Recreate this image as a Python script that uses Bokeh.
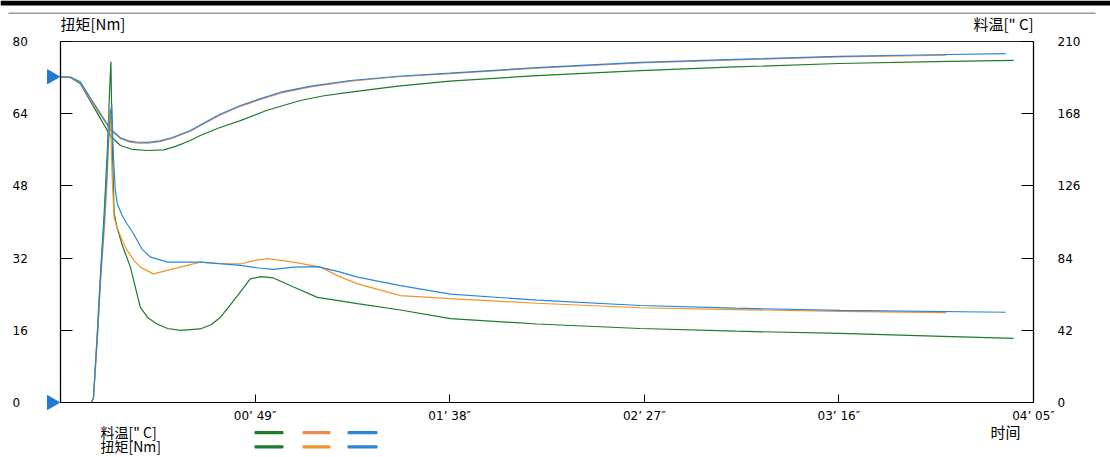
from math import pi
from bokeh.plotting import figure
from bokeh.models import (Range1d, LinearAxis, FixedTicker, Label, LabelSet,
                          ColumnDataSource, BoxAnnotation)
from bokeh.core.properties import value
from bokeh.embed import file_html
from bokeh.resources import INLINE

# ---------------- data ----------------
x_ticks = [49, 98, 147, 196, 245]
x_tick_labels = ["00’ 49″", "01’ 38″", "02’ 27″", "03’ 16″", "04’ 05″"]
left_ticks = [0, 16, 32, 48, 64, 80]
left_tick_labels = ["0", "16", "32", "48", "64", "80"]
right_ticks = [0, 42, 84, 126, 168, 210]

temp_setpoint = 189.5
torque_start = 0

torque_green_t = [0, 7.8, 8.3, 9.3, 10.1, 11.0, 11.8, 12.4, 12.7, 13.0, 13.5, 14.2, 15.5, 17.6,
                  19.0, 20.1, 22.0, 24.3, 27.0, 30.2, 35.2, 38.0, 40.3, 43.6, 47.8, 50.5, 53.6,
                  58.7, 64.7, 74.8, 85.6, 98.2, 120, 146, 170, 196.4, 220, 240]
torque_green_v = [0, 0, 1, 16, 29, 42, 56, 70, 75.5, 58, 42, 38.9, 35, 30,
                  25, 21.1, 18.8, 17.4, 16.4, 16.0, 16.3, 17.3, 18.9, 22.6, 27.4, 27.9, 27.6,
                  25.6, 23.3, 21.9, 20.5, 18.6, 17.4, 16.4, 15.8, 15.3, 14.7, 14.2]

torque_orange_t = [0, 7.8, 8.3, 9.3, 10.1, 11.0, 11.8, 12.3, 12.6, 13.0, 13.5, 14.2, 15.5, 16.8,
                   18.5, 20.1, 23.4, 28.4, 35.2, 40, 45.3, 49, 52.1, 58.7, 65.5, 70, 74.8, 85.6,
                   98.2, 120, 146, 170, 196.4, 223]
torque_orange_v = [0, 0, 1, 14, 27, 38, 50, 65, 63, 50, 41, 38.9, 36, 33.7,
                   31.5, 30, 28.5, 29.6, 31.1, 30.8, 30.7, 31.5, 31.9, 31.1, 30, 28, 26.3, 23.7,
                   23, 22, 21, 20.6, 20.2, 19.9]

torque_blue_t = [0, 7.8, 8.3, 9.3, 10.1, 11.0, 11.8, 12.5, 12.9, 13.3, 13.8, 14.3, 15.5, 16.8,
                 18.4, 20.5, 22.7, 27.0, 35.2, 45.3, 50, 53.6, 58.7, 64.7, 70, 74.8, 85.6, 98.2,
                 120, 146, 170, 196.4, 238]
torque_blue_v = [0, 0, 1, 15, 28, 40, 53, 64, 66, 55, 47, 44, 41.5, 39.5,
                 37.4, 34, 32.2, 31.1, 31.1, 30.4, 29.8, 29.5, 30, 30.1, 29, 27.8, 25.9, 24,
                 22.7, 21.5, 20.9, 20.4, 20]

temp_blue_t = [0, 2.5, 5.0, 7.6, 10.1, 12.6, 15.1, 17.5, 19.5, 22.0, 25.0, 28.0, 32.7, 36.0,
               40.0, 45.3, 50.0, 55.4, 63.0, 73.0, 85.0, 98.0, 120.0, 146.0, 170.0, 196.0,
               220.0, 238.0]
temp_blue_v = [189.5, 189.3, 186.5, 177, 168, 159, 154, 152, 151.4, 151.3, 152.2, 154, 158.2,
               162.5, 167.5, 172.8, 176.5, 180.5, 184, 187.3, 189.8, 191.6, 194.8, 197.8, 199.6,
               201.3, 202.3, 203]

temp_orange_t = [0, 2.5, 5.0, 7.6, 10.1, 12.6, 15.1, 17.5, 19.5, 22.0, 25.0, 28.0, 32.7, 36.0,
                 40.0, 45.3, 50.0, 55.4, 63.0, 73.0, 85.0, 98.0, 120.0, 146.0, 170.0, 196.0,
                 223.0]
temp_orange_v = [189.5, 189.1, 186, 176, 167, 158.5, 153.5, 151.5, 150.8, 150.8, 151.8, 153.6,
                 157.8, 162, 167, 172.3, 176, 180, 183.6, 187, 189.5, 191.3, 194.5, 197.5, 199.3,
                 201, 202]

temp_green_t = [0, 2.5, 5.0, 7.6, 10.1, 12.6, 15.1, 18.0, 21.9, 26.0, 29.0, 32.7, 35.2, 40.0,
                45.3, 52.0, 60.4, 66.0, 73.0, 85.0, 98.0, 120.0, 146.0, 170.0, 196.0, 220.0,
                240.0]
temp_green_v = [189.5, 189, 185.5, 175, 165, 155, 149.5, 147.3, 146.6, 147, 149, 152.4, 155.3,
                159.8, 164, 170, 175.7, 178.3, 180.5, 184, 186.9, 190.2, 193, 195.2, 197.2,
                198.3, 199]

# ---------------- styling / layout ----------------
GREEN = "#1f7a2a"
ORANGE_T = "#ec8a50"
ORANGE_M = "#f0952a"
BLUE = "#2a86d8"
TRI = "#1e7ad6"
CJK = "Noto Sans CJK SC"
NUM = "DejaVu Sans"

W, H = 1110, 457
PX_L, PX_R, PY_T, PY_B = 60, 1033, 41, 402          # plot box in page pixels
x_max, y_max, t_max = x_ticks[-1], left_ticks[-1], right_ticks[-1]
kx = (PX_R - PX_L) / x_max
ky = (PY_B - PY_T) / y_max
kt = (PY_B - PY_T) / t_max


def px2x(px):
    return (px - PX_L) / kx


def py2y(py):
    return (PY_B - py) / ky


p = figure(width=W, height=H, output_backend="svg", toolbar_location=None,
           x_range=Range1d(px2x(0), px2x(W)), y_range=Range1d(py2y(H), py2y(0)))
p.extra_y_ranges = {"temp": Range1d(-(H - PY_B) / kt, t_max + PY_T / kt)}
p.min_border = 0
p.title.visible = False
p.grid.visible = False
p.outline_line_color = None
p.background_fill_color = "white"
p.border_fill_color = "white"

# bottom axis (fixed at torque 0)
xa = p.xaxis[0]
xa.fixed_location = 0
xa.bounds = (0, x_max)
xa.ticker = FixedTicker(ticks=x_ticks)
xa.major_label_overrides = {t: l for t, l in zip(x_ticks, x_tick_labels)}
xa.major_tick_in = 8
xa.major_tick_out = 0
xa.minor_tick_line_color = None
xa.axis_line_color = "black"
xa.major_tick_line_color = "black"
xa.major_label_standoff = 6
xa.major_label_text_font = NUM
xa.major_label_text_font_size = "12px"
xa.major_label_text_color = "black"

# top border line of the plot box
ta = LinearAxis(fixed_location=y_max, bounds=(0, x_max), ticker=FixedTicker(ticks=[]),
                axis_line_color="#222222", major_tick_line_color=None,
                minor_tick_line_color=None)
p.add_layout(ta, "above")

# left axis
ya = p.yaxis[0]
ya.fixed_location = 0
ya.bounds = (0, y_max)
ya.ticker = FixedTicker(ticks=left_ticks)
ya.major_label_overrides = {t: "" for t in left_ticks}
ya.major_tick_in = 12
ya.major_tick_out = 0
ya.minor_tick_line_color = None
ya.axis_line_color = "black"
ya.axis_line_width = 1.3
ya.major_tick_line_color = "black"

# right axis (temperature)
ra = LinearAxis(y_range_name="temp", fixed_location=x_max, bounds=(0, t_max),
                ticker=FixedTicker(ticks=right_ticks))
ra.major_tick_in = 12
ra.major_tick_out = 0
ra.minor_tick_line_color = None
ra.axis_line_color = "black"
ra.axis_line_width = 1.3
ra.major_tick_line_color = "black"
ra.major_label_standoff = 24
ra.major_label_text_font = NUM
ra.major_label_text_font_size = "12px"
ra.major_label_text_color = "black"
p.add_layout(ra, "right")

# lines
p.line(temp_green_t, temp_green_v, color=GREEN, line_width=1.2, y_range_name="temp")
p.line(temp_orange_t, temp_orange_v, color=ORANGE_T, line_width=1.2, y_range_name="temp")
p.line(temp_blue_t, temp_blue_v, color=BLUE, line_width=1.2, y_range_name="temp")
p.line(torque_green_t, torque_green_v, color=GREEN, line_width=1.2)
p.line(torque_orange_t, torque_orange_v, color=ORANGE_M, line_width=1.2)
p.line(torque_blue_t, torque_blue_v, color=BLUE, line_width=1.2)

# left tick labels, left aligned
src = ColumnDataSource(dict(x=[px2x(12)] * len(left_ticks), y=left_ticks, t=left_tick_labels))
p.add_layout(LabelSet(x="x", y="y", text="t", source=src,
                      text_align="left", text_baseline="middle",
                      text_font=value(NUM), text_font_size="12px", text_color="black"))

# start markers
p.scatter([px2x(51)], [temp_setpoint], y_range_name="temp", marker="triangle",
          angle=-pi / 2, size=14, fill_color=TRI, line_color=TRI)
p.scatter([px2x(51)], [torque_start], marker="triangle",
          angle=-pi / 2, size=14, fill_color=TRI, line_color=TRI)


def label(text, x, cy, align="center", size="14px"):
    p.add_layout(Label(x=px2x(x), y=py2y(cy), text=text, text_font=CJK,
                       text_font_size=size, text_align=align,
                       text_baseline="middle", text_color="black"))


label("扭矩[Nm]", 60, 23, "left", "15px")
label('料温[" C]', 1003, 23, "center", "15px")
label("时间", 1005, 430.5, "center", "15px")
label('料温[" C]', 100, 431.5, "left")
label("扭矩[Nm]", 100, 445.5, "left")


def box(l, r, t, b, c, rad=1):
    p.add_layout(BoxAnnotation(left=px2x(l), right=px2x(r), top=py2y(t), bottom=py2y(b),
                               fill_color=c, fill_alpha=1, line_color=None,
                               border_radius=rad))


for (l, r), c1, c2 in [((254, 283), GREEN, GREEN), ((302, 330), ORANGE_T, ORANGE_M),
                       ((347, 377), BLUE, BLUE)]:
    box(l, r, 430.5, 433.7, c1)
    box(l, r, 444.8, 448.0, c2)

# window decorations at the top
box(0, W, 0, 5, "black", 0)
box(8, 1095, 12, 13.5, "#9a9a9a", 0)

open("out.html", "w").write(file_html(p, INLINE))
